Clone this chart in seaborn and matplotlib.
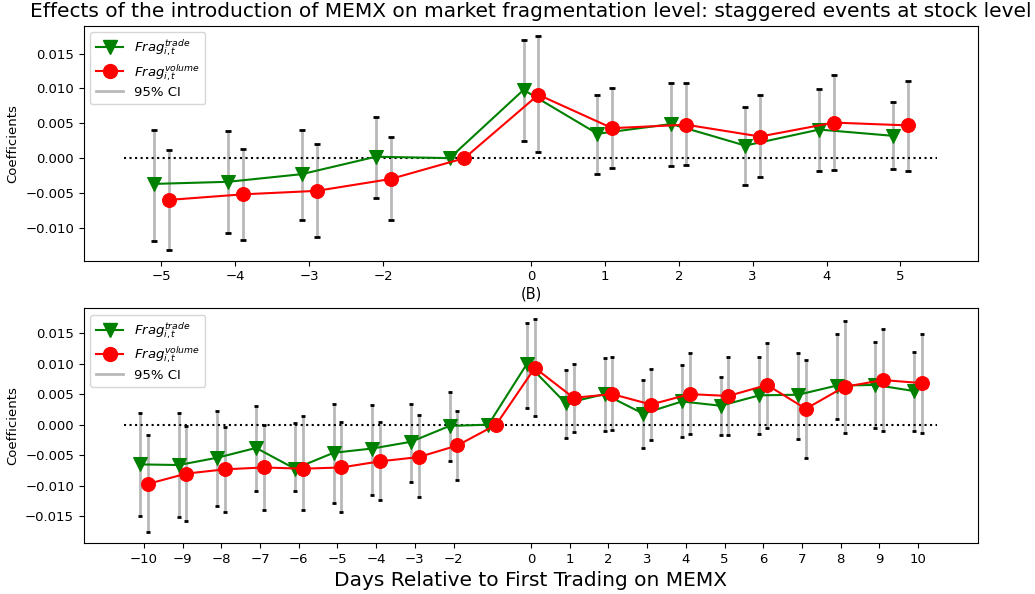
import numpy as np
import pandas as pd
import seaborn as sns
import matplotlib
matplotlib.use("Agg")
import matplotlib.pyplot as plt
from matplotlib.lines import Line2D

# panel A: +-5 days
days_a = [-5, -4, -3, -2, -1, 0, 1, 2, 3, 4, 5]
trade_a = [-0.0037, -0.0034, -0.0023, 0.0002, 0.0, 0.0098, 0.0035, 0.0049, 0.0018, 0.0041, 0.0032]
trade_a_lo = [-0.0119, -0.0108, -0.0089, -0.0057, np.nan, 0.0025, -0.0023, -0.0011, -0.0038, -0.0019, -0.0016]
trade_a_hi = [0.0041, 0.0039, 0.0040, 0.0059, np.nan, 0.0170, 0.0091, 0.0108, 0.0074, 0.0099, 0.0080]
volume_a = [-0.0060, -0.0052, -0.0047, -0.0030, 0.0, 0.0091, 0.0043, 0.0048, 0.0031, 0.0051, 0.0047]
volume_a_lo = [-0.0132, -0.0117, -0.0113, -0.0089, np.nan, 0.0009, -0.0014, -0.0010, -0.0027, -0.0017, -0.0018]
volume_a_hi = [0.0011, 0.0013, 0.0021, 0.0030, np.nan, 0.0175, 0.0100, 0.0108, 0.0090, 0.0120, 0.0111]

# panel B: +-10 days
days_b = [-10, -9, -8, -7, -6, -5, -4, -3, -2, -1, 0, 1, 2, 3, 4, 5, 6, 7, 8, 9, 10]
trade_b = [-0.0065, -0.0066, -0.0054, -0.0038, -0.0072, -0.0046, -0.0039, -0.0028, -0.0002, 0.0,
           0.0100, 0.0035, 0.0050, 0.0018, 0.0038, 0.0031, 0.0048, 0.0049, 0.0064, 0.0065, 0.0055]
trade_b_lo = [-0.0150, -0.0151, -0.0133, -0.0109, -0.0109, -0.0128, -0.0115, -0.0094, -0.0059, np.nan,
              0.0028, -0.0021, -0.0010, -0.0038, -0.0020, -0.0017, -0.0016, -0.0023, 0.0009, -0.0006, -0.0010]
trade_b_hi = [0.0019, 0.0019, 0.0022, 0.0031, 0.0003, 0.0034, 0.0033, 0.0034, 0.0054, np.nan,
              0.0167, 0.0090, 0.0109, 0.0073, 0.0097, 0.0078, 0.0111, 0.0117, 0.0149, 0.0135, 0.0119]
volume_b = [-0.0097, -0.0080, -0.0073, -0.0070, -0.0072, -0.0070, -0.0060, -0.0053, -0.0034, 0.0,
            0.0093, 0.0044, 0.0050, 0.0033, 0.0050, 0.0047, 0.0065, 0.0026, 0.0062, 0.0073, 0.0068]
volume_b_lo = [-0.0176, -0.0157, -0.0143, -0.0140, -0.0140, -0.0143, -0.0124, -0.0118, -0.0090, np.nan,
               0.0014, -0.0012, -0.0009, -0.0025, -0.0016, -0.0017, -0.0005, -0.0055, -0.0014, -0.0010, -0.0014]
volume_b_hi = [-0.0017, -0.0002, -0.0003, 0.0000, 0.0015, 0.0004, 0.0005, 0.0016, 0.0022, np.nan,
               0.0173, 0.0100, 0.0110, 0.0091, 0.0118, 0.0111, 0.0134, 0.0106, 0.0169, 0.0157, 0.0149]

TRADE_LABEL = r"$Frag_{i,t}^{trade}$"
VOLUME_LABEL = r"$Frag_{i,t}^{volume}$"

plt.rcParams["xtick.labelsize"] = 9.5
plt.rcParams["ytick.labelsize"] = 9.5


def plot_ci(ax, x, lo, hi, capsize):
    x, lo, hi = np.asarray(x, float), np.asarray(lo), np.asarray(hi)
    ok = np.isfinite(lo)
    mid = (lo + hi) / 2
    _, caps, bars = ax.errorbar(
        x[ok], mid[ok], yerr=(hi - lo)[ok] / 2, fmt="none",
        ecolor="gray", elinewidth=2, capsize=capsize, capthick=2, zorder=1,
    )
    for b in bars:
        b.set_alpha(0.55)
    # caps are drawn in black on top of the grey bars
    for c in caps:
        c.set_color("k")
        c.set_markeredgecolor("k")
        c.set_alpha(1)


def plot_panel(ax, days, trade, trade_lo, trade_hi, vol, vol_lo, vol_hi, capsize):
    df = pd.DataFrame({"day": days, "trade": trade, "volume": vol})
    df["x_trade"] = df["day"] - 0.1
    df["x_volume"] = df["day"] + 0.1
    plot_ci(ax, df["x_trade"], trade_lo, trade_hi, capsize)
    plot_ci(ax, df["x_volume"], vol_lo, vol_hi, capsize)
    sns.lineplot(data=df, x="x_trade", y="trade", ax=ax, color="green", marker="v",
                 markersize=10, markeredgecolor="green", linewidth=1.5, zorder=3)
    sns.lineplot(data=df, x="x_volume", y="volume", ax=ax, color="red", marker="o",
                 markersize=10, markeredgecolor="red", linewidth=1.5, zorder=3)
    lim = max(abs(min(days)), max(days)) + 0.5
    ax.hlines(0, -lim, lim, colors="k", linestyles=":", linewidth=1.5, zorder=2)
    ax.set_xticks([d for d in days if d != -1])
    ax.set_ylabel("Coefficients", fontsize=9.5)
    handles = [
        Line2D([], [], color="green", marker="v", markersize=10, linewidth=1.5),
        Line2D([], [], color="red", marker="o", markersize=10, linewidth=1.5),
        Line2D([], [], color="gray", alpha=0.55, linewidth=2),
    ]
    ax.legend(handles, [TRADE_LABEL, VOLUME_LABEL, "95% CI"], loc="upper left",
              fontsize=9.5, labelspacing=0.25, handlelength=2.1)


fig = plt.figure(figsize=(10.35, 5.94), dpi=100)
ax1 = fig.add_axes([0.081, 0.561, 0.864, 0.396])
ax2 = fig.add_axes([0.081, 0.086, 0.864, 0.395])

plot_panel(ax1, days_a, trade_a, trade_a_lo, trade_a_hi,
           volume_a, volume_a_lo, volume_a_hi, capsize=2.2)
plot_panel(ax2, days_b, trade_b, trade_b_lo, trade_b_hi,
           volume_b, volume_b_lo, volume_b_hi, capsize=1.3)

ax1.set_title("Effects of the introduction of MEMX on market fragmentation level: "
              "staggered events at stock level", fontsize=14.5)
ax1.set_xlabel("(B)", fontsize=10.5, labelpad=2)
ax2.set_xlabel("Days Relative to First Trading on MEMX", fontsize=14.5)

fig.savefig("out.png", dpi=100)
